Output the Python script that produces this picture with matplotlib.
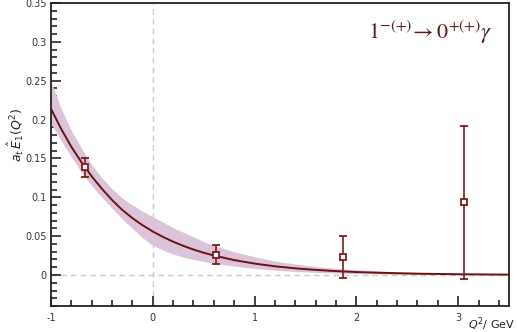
import matplotlib
matplotlib.use("Agg")
import matplotlib.pyplot as plt
from matplotlib.ticker import MultipleLocator

# fitted curve
q2_curve = [-1.0, -0.9, -0.8, -0.7, -0.6, -0.5, -0.4, -0.3, -0.2, -0.1, 0.0, 0.1, 0.2, 0.3, 0.4,
            0.5, 0.6, 0.8, 1.0, 1.2, 1.4, 1.6, 1.8, 2.0, 2.3, 2.6, 3.0, 3.5]
f_curve = [0.214, 0.188, 0.165, 0.145, 0.127, 0.111, 0.0965, 0.0838, 0.0732, 0.064, 0.056, 0.049,
           0.0429, 0.0375, 0.0328, 0.0287, 0.0251, 0.0192, 0.0147, 0.0112, 0.0086, 0.0066, 0.0050,
           0.0038, 0.0026, 0.0017, 0.0010, 0.0005]

# error band
band_hi = [0.249, 0.214, 0.186, 0.163, 0.142, 0.125, 0.111, 0.099, 0.090, 0.082, 0.075, 0.068,
           0.061, 0.055, 0.049, 0.043, 0.038, 0.030, 0.0235, 0.018, 0.0142, 0.011, 0.0086, 0.0068,
           0.0048, 0.0033, 0.0020, 0.0011]
band_lo = [0.195, 0.173, 0.152, 0.132, 0.115, 0.100, 0.086, 0.072, 0.060, 0.048, 0.038, 0.032,
           0.027, 0.023, 0.020, 0.0175, 0.015, 0.0115, 0.0085, 0.0062, 0.0046, 0.0034, 0.0025,
           0.0019, 0.0013, 0.0009, 0.0005, 0.0003]

# lattice points
q2_pts = [-0.667, 0.624, 1.866, 3.06]
f_pts = [0.1386, 0.026, 0.023, 0.0935]
f_err = [0.0125, 0.012, 0.027, 0.098]

dark = "#6a1212"

fig = plt.figure(figsize=(5.17, 3.32), dpi=100)
ax = fig.add_axes([0.0986, 0.078, 0.886, 0.913])

ax.axvline(0, color="#c5cccc", lw=1.0, ls=(0, (4, 3)), zorder=1)
ax.axhline(0, color="#c5cccc", lw=1.0, ls=(0, (4, 3)), zorder=1)

ax.fill_between(q2_curve, band_lo, band_hi, color="#dcc3d9", lw=0, zorder=2)
ax.plot(q2_curve, f_curve, color=dark, lw=1.4, zorder=3)
ax.errorbar(q2_pts, f_pts, yerr=f_err, fmt="s", color="#7a1c1c", mfc="white", mec="#7a1c1c",
            ms=5, mew=1.3, elinewidth=1.2, capsize=3, capthick=1.2, zorder=4)

ax.set_xlim(-1, 3.5)
ax.set_ylim(-0.04, 0.35)
ax.xaxis.set_major_locator(MultipleLocator(1))
ax.xaxis.set_minor_locator(MultipleLocator(0.2))
ax.yaxis.set_major_locator(MultipleLocator(0.05))
ax.yaxis.set_minor_locator(MultipleLocator(0.01))
ax.tick_params(which="both", direction="in", top=False, right=False, color="#222222",
               labelsize=7, labelcolor="#333333", width=1.2)
ax.tick_params(which="major", length=7)
ax.tick_params(which="minor", length=4)
ax.tick_params(axis="y", which="major", pad=3)
ax.tick_params(axis="x", which="major", pad=5)
ax.set_yticks([0, 0.05, 0.1, 0.15, 0.2, 0.25, 0.3, 0.35])
ax.set_yticklabels(["0", "0.05", "0.1", "0.15", "0.2", "0.25", "0.3", "0.35"])
ax.set_xticks([-1, 0, 1, 2, 3])
ax.set_xticklabels(["-1", "0", "1", "2", "3"])
for s in ax.spines.values():
    s.set_linewidth(1.3)
    s.set_color("#222222")

fig.text(0.03, 0.595, r"$a_t\,\hat{E}_1(Q^2)$", rotation=90, fontsize=9, color="#222222",
         ha="center", va="center")
fig.text(0.997, 0.022, r"$Q^2$/ GeV", fontsize=8, color="#222222", ha="right", va="center")

ax.text(0.963, 0.905, r"$1^{-(+)}\!\rightarrow 0^{+(+)}\gamma$", transform=ax.transAxes,
        fontsize=16, color="#5a1818", ha="right", va="center", math_fontfamily="stix")

fig.savefig("out.png", dpi=100)
